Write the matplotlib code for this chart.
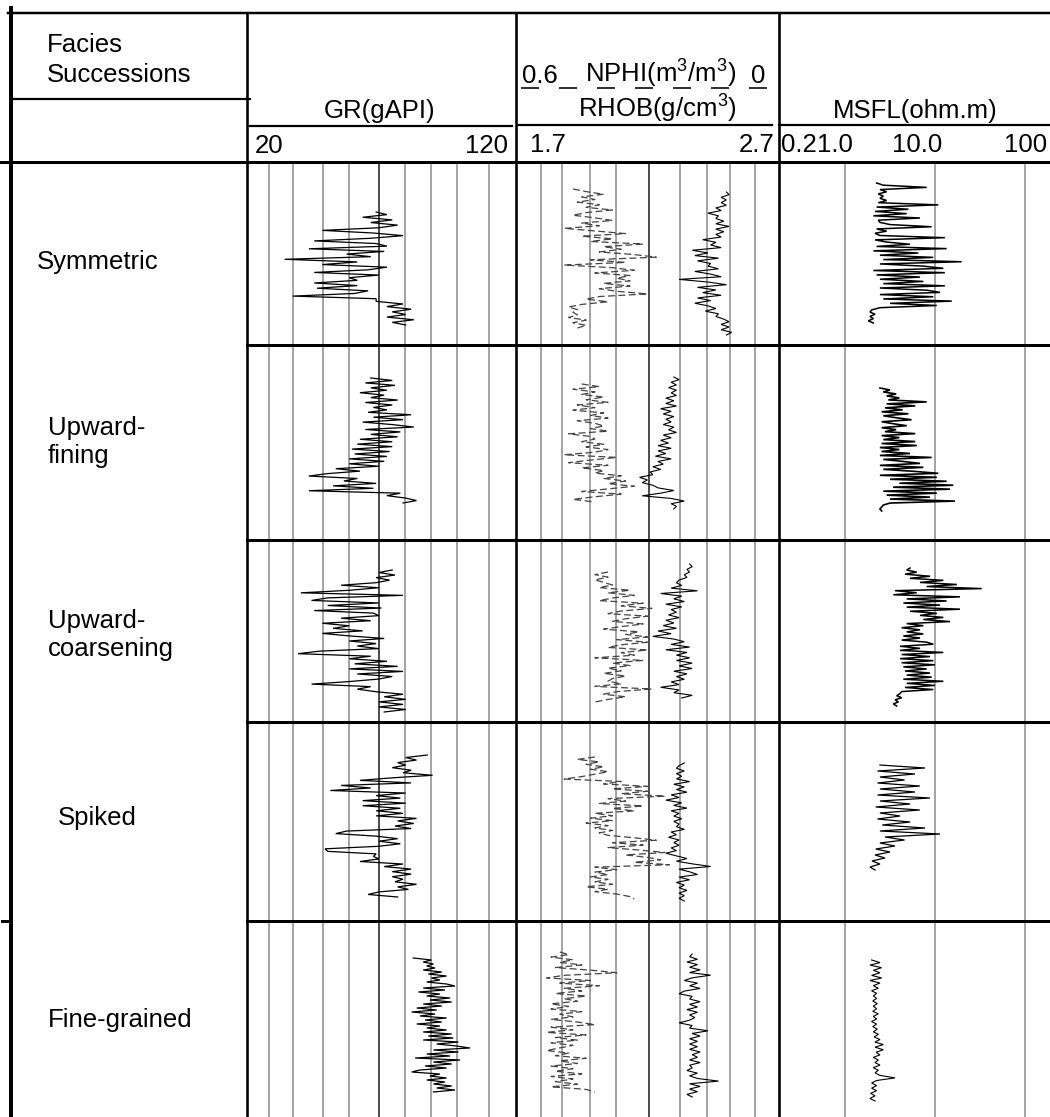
import numpy as np
import matplotlib
matplotlib.use('Agg')
import matplotlib.pyplot as plt

plt.rcParams['font.family'] = ['Liberation Sans', 'DejaVu Sans']
plt.rcParams['mathtext.fontset'] = 'custom'
plt.rcParams['mathtext.rm'] = 'Liberation Sans'
plt.rcParams['mathtext.default'] = 'regular'
plt.rcParams['lines.scale_dashes'] = False

# ---------------- data ----------------
FACIES = ["Symmetric", "Upward-\nfining", "Upward-\ncoarsening", "Spiked", "Fine-grained"]

GR_RANGE = [20, 120]
DEN_RANGE = [1.7, 2.7]
NPHI_RANGE = [0.6, 0.0]
MSFL_RANGE = [0.2, 190]
GR_GRID = [28.2, 37.1, 48.1, 57.9, 68.9, 78.9, 88.4, 98.1, 109.8]
GR_GRID_DARK = [68.9]
DEN_GRID = [1.795, 1.875, 1.98, 2.08, 2.205, 2.325, 2.425, 2.515, 2.61]
DEN_GRID_DARK = [2.205]
MSFL_GRID = [1.0, 10.0, 100.0]
ROW_DEPTH = [18.3, 19.5, 18.2, 19.9, 19.6]   # m, relative depth span of each panel

# Symmetric
GR_SYM = [68, 72, 63, 74, 66, 76, 69, 48, 67, 78, 66, 45, 68, 72, 43, 71, 57, 66, 34, 61, 48, 72,
          65, 45, 69, 58, 61, 45, 61, 46, 65, 60, 37, 68, 68, 78, 72, 81, 74, 79, 72, 82, 74, 79]
GR_SYM_Z = [5.0, 16.3]
NPHI_SYM = [0.47, 0.44, 0.40, 0.45, 0.42, 0.46, 0.41, 0.44, 0.38, 0.44, 0.47, 0.42, 0.38, 0.45,
            0.41, 0.49, 0.42, 0.35, 0.45, 0.38, 0.43, 0.31, 0.40, 0.36, 0.41, 0.33, 0.28, 0.43,
            0.35, 0.49, 0.38, 0.33, 0.42, 0.34, 0.37, 0.34, 0.40, 0.34, 0.41, 0.37, 0.30, 0.41,
            0.44, 0.39, 0.45, 0.48, 0.46, 0.47, 0.46, 0.48, 0.44, 0.47, 0.44, 0.46]
NPHI_SYM_Z = [2.7, 16.6]
RHOB_SYM = [2.50, 2.51, 2.48, 2.50, 2.48, 2.50, 2.46, 2.48, 2.43, 2.47, 2.46, 2.49, 2.46, 2.51,
            2.46, 2.49, 2.46, 2.48, 2.41, 2.46, 2.44, 2.48, 2.37, 2.43, 2.38, 2.47, 2.39, 2.44,
            2.43, 2.47, 2.38, 2.44, 2.48, 2.32, 2.43, 2.50, 2.39, 2.46, 2.41, 2.48, 2.39, 2.44,
            2.38, 2.43, 2.46, 2.42, 2.47, 2.46, 2.49, 2.51, 2.48, 2.51, 2.48, 2.52, 2.50]
RHOB_SYM_Z = [3.0, 17.3]
MSFL_SYM = [2.25, 2.67, 8.1, 2.45, 2.91, 2.35, 2.67, 2.45, 2.91, 2.35, 10.9, 2.25, 5.07, 2.16,
            4.86, 2.07, 6.83, 2.35, 2.45, 3.17, 9.2, 2.25, 2.91, 2.16, 2.45, 12.9, 2.16, 2.91,
            5.29, 2.25, 13.5, 2.07, 6.55, 2.45, 9.6, 2.67, 19.8, 2.45, 7.44, 12.4, 2.07, 12.9,
            2.25, 6.83, 2.45, 7.44, 2.67, 12.9, 2.45, 8.1, 11.4, 2.45, 9.6, 2.67, 15.4, 3.17,
            10.5, 2.45, 1.99, 1.90, 2.16, 1.90, 2.07, 1.82, 2.07]
MSFL_SYM_Z = [2.1, 16.1]

# Upward-fining
GR_UF = [66, 74, 64, 75, 66, 72, 62, 71, 66, 76, 64, 74, 67, 72, 65, 81, 67, 78, 63, 74, 82, 64,
         77, 66, 76, 62, 74, 61, 74, 59, 73, 60, 72, 58, 71, 58, 69, 53, 62, 50, 43, 61, 56, 68,
         52, 67, 43, 77, 72, 79, 83, 78]
GR_UF_Z = [3.3, 15.8]
NPHI_UF = [0.45, 0.41, 0.47, 0.42, 0.45, 0.40, 0.44, 0.39, 0.46, 0.42, 0.47, 0.40, 0.43, 0.39,
           0.46, 0.42, 0.40, 0.43, 0.39, 0.48, 0.43, 0.42, 0.45, 0.40, 0.44, 0.39, 0.42, 0.49,
           0.37, 0.43, 0.48, 0.39, 0.45, 0.40, 0.42, 0.36, 0.40, 0.35, 0.39, 0.33, 0.39, 0.45,
           0.36, 0.42, 0.47, 0.42]
NPHI_UF_Z = [3.9, 15.7]
RHOB_UF = [2.30, 2.32, 2.29, 2.31, 2.28, 2.31, 2.29, 2.31, 2.27, 2.30, 2.27, 2.31, 2.25, 2.29,
           2.26, 2.30, 2.27, 2.29, 2.26, 2.30, 2.28, 2.31, 2.26, 2.29, 2.25, 2.28, 2.24, 2.29,
           2.24, 2.27, 2.23, 2.29, 2.24, 2.26, 2.22, 2.25, 2.21, 2.22, 2.17, 2.20, 2.18, 2.22,
           2.24, 2.30, 2.25, 2.18, 2.29, 2.34, 2.29, 2.31, 2.30]
RHOB_UF_Z = [3.2, 16.4]
MSFL_UF = [2.45, 3.17, 2.67, 3.71, 2.91, 4.03, 3.04, 8.1, 2.91, 6.05, 2.79, 4.38, 2.56, 5.07,
           2.67, 3.71, 5.5, 2.56, 3.43, 4.86, 2.56, 3.71, 2.79, 6.05, 2.56, 4.03, 2.67, 6.05,
           2.56, 6.3, 2.45, 4.03, 2.56, 5.29, 2.45, 9.2, 2.67, 4.38, 6.83, 2.45, 7.44, 2.67,
           5.8, 10.9, 2.45, 10.5, 3.17, 13.5, 4.03, 16.0, 3.43, 14.7, 2.67, 10.5, 2.91, 8.8,
           3.17, 16.7, 3.17, 2.67, 2.56, 2.45, 2.56]
MSFL_UF_Z = [4.3, 16.6]

# Upward-coarsening
GR_UC = [74, 69, 75, 68, 73, 68, 55, 69, 58, 40, 78, 50, 44, 69, 50, 70, 45, 67, 69, 55, 66, 48,
         58, 52, 63, 48, 58, 71, 58, 68, 61, 69, 47, 39, 66, 58, 72, 60, 76, 58, 78, 61, 74, 69,
         58, 44, 66, 61, 68, 78, 71, 79, 69, 78, 69, 79, 71]
GR_UC_Z = [3.0, 17.2]
NPHI_UC = [0.39, 0.42, 0.39, 0.42, 0.40, 0.38, 0.41, 0.34, 0.39, 0.33, 0.38, 0.41, 0.31, 0.36,
           0.29, 0.36, 0.39, 0.30, 0.35, 0.38, 0.31, 0.36, 0.40, 0.32, 0.35, 0.30, 0.37, 0.30,
           0.36, 0.39, 0.30, 0.36, 0.33, 0.42, 0.31, 0.38, 0.34, 0.39, 0.36, 0.40, 0.35, 0.38,
           0.39, 0.36, 0.42, 0.29, 0.37, 0.40, 0.35, 0.39, 0.42]
NPHI_UC_Z = [3.2, 16.2]
RHOB_UC = [2.36, 2.37, 2.35, 2.36, 2.34, 2.35, 2.32, 2.31, 2.33, 2.29, 2.39, 2.25, 2.33, 2.30,
           2.34, 2.27, 2.33, 2.29, 2.31, 2.28, 2.32, 2.27, 2.30, 2.26, 2.31, 2.24, 2.29, 2.22,
           2.30, 2.34, 2.29, 2.36, 2.27, 2.35, 2.31, 2.36, 2.31, 2.37, 2.32, 2.37, 2.30, 2.35,
           2.31, 2.34, 2.29, 2.32, 2.25, 2.32, 2.30, 2.37, 2.33]
RHOB_UC_Z = [2.4, 15.8]
MSFL_UC = [5.29, 4.86, 6.28, 4.65, 8.83, 5.29, 12.4, 6.83, 17.5, 8.1, 33.1, 3.6, 6.28, 3.45,
           19.0, 4.86, 13.5, 4.46, 11.4, 4.86, 19.0, 5.29, 10.5, 6.83, 12.4, 7.44, 14.7, 4.86,
           7.44, 4.27, 6.83, 4.86, 7.44, 4.46, 6.83, 4.27, 8.1, 9.6, 4.09, 6.83, 4.09, 12.4,
           4.27, 8.83, 4.09, 9.6, 4.27, 10.0, 4.46, 8.1, 4.65, 8.83, 4.86, 9.2, 4.46, 12.4,
           4.86, 10.0, 4.65, 9.6, 4.27, 4.09, 3.76, 4.27, 3.6, 3.93, 3.45, 3.76]
MSFL_UC_Z = [2.8, 16.6]

# Spiked
GR_SP = [87, 79, 83, 76, 79, 74, 81, 78, 89, 74, 62, 81, 55, 66, 51, 79, 68, 77, 63, 79, 63, 77,
         68, 78, 68, 83, 76, 82, 75, 81, 57, 53, 68, 76, 69, 77, 69, 49, 50, 68, 67, 69, 62, 78,
         71, 81, 74, 81, 74, 78, 75, 83, 76, 80, 69, 65, 76]
GR_SP_Z = [3.3, 17.5]
NPHI_SP = [0.42, 0.46, 0.41, 0.44, 0.40, 0.43, 0.39, 0.42, 0.45, 0.49, 0.36, 0.40, 0.30, 0.38,
           0.30, 0.36, 0.26, 0.39, 0.35, 0.41, 0.31, 0.38, 0.33, 0.42, 0.38, 0.43, 0.38, 0.44,
           0.39, 0.42, 0.38, 0.41, 0.39, 0.33, 0.28, 0.38, 0.31, 0.39, 0.32, 0.26, 0.35, 0.30,
           0.27, 0.33, 0.25, 0.42, 0.37, 0.42, 0.39, 0.43, 0.39, 0.42, 0.38, 0.44, 0.39, 0.42,
           0.37, 0.34, 0.33]
NPHI_SP_Z = [3.5, 17.7]
RHOB_SP = [2.34, 2.32, 2.31, 2.34, 2.31, 2.33, 2.31, 2.36, 2.30, 2.34, 2.31, 2.35, 2.29, 2.32,
           2.27, 2.33, 2.30, 2.35, 2.29, 2.32, 2.30, 2.33, 2.30, 2.32, 2.31, 2.34, 2.29, 2.31,
           2.28, 2.32, 2.30, 2.32, 2.29, 2.31, 2.27, 2.31, 2.35, 2.31, 2.37, 2.44, 2.32, 2.36,
           2.39, 2.32, 2.36, 2.31, 2.34, 2.32, 2.35, 2.32, 2.34, 2.32, 2.34]
RHOB_SP_Z = [4.1, 17.9]
MSFL_SP = [2.45, 7.76, 2.3, 6.0, 2.45, 4.6, 2.3, 6.8, 2.45, 6.0, 2.3, 8.8, 2.45, 5.3, 2.2, 6.8,
           2.45, 4.1, 2.3, 5.3, 2.6, 7.76, 2.45, 11.4, 2.79, 4.6, 2.45, 3.6, 2.2, 3.17, 2.16,
           2.79, 2.0, 2.45, 1.9, 2.16]
MSFL_SP_Z = [4.3, 14.8]

# Fine-grained
GR_FG = [81.8, 88.6, 85.5, 89.3, 86.8, 89.9, 85.5, 92.4, 87.4, 94.2, 88.6, 91.7, 86.8, 94.2,
         97.3, 85.5, 93.6, 83.7, 91.7, 86.8, 95.5, 88.0, 96.1, 85.5, 92.4, 83.1, 90.5, 81.2,
         89.9, 84.3, 94.2, 86.2, 92.4, 83.1, 91.7, 86.8, 94.2, 85.5, 96.1, 87.4, 96.7, 85.5,
         98.6, 90.5, 97.9, 102.9, 89.3, 98.6, 86.8, 95.5, 82.5, 99.2, 89.3, 96.1, 86.2, 94.2,
         84.3, 81.2, 91.7, 88.0, 94.2, 86.8, 93.6, 89.3, 96.1, 90.5, 97.3, 89.3]
GR_FG_Z = [3.7, 17.1]
NPHI_FG = [0.50, 0.48, 0.52, 0.47, 0.50, 0.45, 0.51, 0.43, 0.37, 0.49, 0.53, 0.43, 0.50, 0.41,
           0.49, 0.45, 0.51, 0.44, 0.49, 0.46, 0.52, 0.48, 0.52, 0.45, 0.50, 0.47, 0.52, 0.46,
           0.42, 0.52, 0.47, 0.53, 0.44, 0.51, 0.46, 0.52, 0.47, 0.50, 0.53, 0.48, 0.51, 0.44,
           0.50, 0.46, 0.52, 0.47, 0.51, 0.45, 0.52, 0.47, 0.51, 0.46, 0.52, 0.44, 0.42]
NPHI_FG_Z = [3.1, 17.1]
RHOB_FG = [2.37, 2.36, 2.39, 2.35, 2.39, 2.36, 2.40, 2.36, 2.44, 2.37, 2.34, 2.39, 2.36, 2.40,
           2.34, 2.32, 2.37, 2.36, 2.40, 2.36, 2.39, 2.35, 2.39, 2.36, 2.38, 2.36, 2.32, 2.37,
           2.36, 2.43, 2.37, 2.40, 2.36, 2.39, 2.36, 2.39, 2.36, 2.40, 2.37, 2.39, 2.36, 2.40,
           2.36, 2.37, 2.35, 2.39, 2.36, 2.39, 2.47, 2.36, 2.40, 2.36, 2.39, 2.35, 2.37]
RHOB_FG_Z = [3.3, 17.6]
MSFL_FG = [1.98, 2.45, 1.90, 2.56, 2.07, 2.45, 1.98, 2.56, 1.90, 2.45, 2.07, 2.35, 1.98, 2.25,
           2.07, 2.25, 2.04, 2.29, 2.07, 2.25, 2.04, 2.35, 2.07, 2.25, 1.98, 2.25, 2.04, 2.29,
           2.07, 2.35, 2.11, 2.45, 2.16, 2.67, 2.16, 2.67, 2.22, 2.45, 2.07, 2.35, 2.16, 2.45,
           2.07, 2.35, 2.16, 2.45, 3.60, 2.25, 1.98, 2.25, 1.98, 2.25, 1.93, 2.16, 1.90, 2.16]
MSFL_FG_Z = [3.9, 18.0]

GR_ALL = [(GR_SYM, GR_SYM_Z), (GR_UF, GR_UF_Z), (GR_UC, GR_UC_Z), (GR_SP, GR_SP_Z), (GR_FG, GR_FG_Z)]
NPHI_ALL = [(NPHI_SYM, NPHI_SYM_Z), (NPHI_UF, NPHI_UF_Z), (NPHI_UC, NPHI_UC_Z), (NPHI_SP, NPHI_SP_Z), (NPHI_FG, NPHI_FG_Z)]
RHOB_ALL = [(RHOB_SYM, RHOB_SYM_Z), (RHOB_UF, RHOB_UF_Z), (RHOB_UC, RHOB_UC_Z), (RHOB_SP, RHOB_SP_Z), (RHOB_FG, RHOB_FG_Z)]
MSFL_ALL = [(MSFL_SYM, MSFL_SYM_Z), (MSFL_UF, MSFL_UF_Z), (MSFL_UC, MSFL_UC_Z), (MSFL_SP, MSFL_SP_Z), (MSFL_FG, MSFL_FG_Z)]

# ---------------- layout ----------------
W, H = 1050, 1117
fig = plt.figure(figsize=(W / 100, H / 100), dpi=100)
fig.patch.set_facecolor('white')

ROW_Y = [162, 345, 540, 722, 921, 1117]
X_GR = (247, 516)
X_DN = (516, 779)
X_MS = (782, 1050)
FS = 18.5
PT = 0.72  # points per pixel


def rect(x0, x1, y0, y1):
    return [x0 / W, 1 - y1 / H, (x1 - x0) / W, (y1 - y0) / H]


def blank(ax):
    ax.set_axis_off()
    ax.patch.set_alpha(0)


def curve(ax, vals, zr, **kw):
    z = np.linspace(zr[0], zr[1], len(vals))
    ax.plot(vals, z, solid_joinstyle='miter', **kw)


GRID_C = '#8a8a8a'
DARK_C = '#1a1a1a'
MSFL_LW = [1.1, 1.2, 1.1, 0.9, 0.8]

for i in range(5):
    y0, y1 = ROW_Y[i], ROW_Y[i + 1]
    span = ROW_DEPTH[i]
    # GR
    ax = fig.add_axes(rect(X_GR[0], X_GR[1], y0, y1))
    blank(ax)
    ax.set_xlim(*GR_RANGE)
    ax.set_ylim(span, 0)
    for g in GR_GRID:
        ax.axvline(g, color=DARK_C if g in GR_GRID_DARK else GRID_C, lw=1.1)
    curve(ax, GR_ALL[i][0], GR_ALL[i][1], color='black', lw=0.9)
    # density / neutron
    ax = fig.add_axes(rect(X_DN[0], X_DN[1], y0, y1))
    blank(ax)
    ax.set_xlim(*DEN_RANGE)
    ax.set_ylim(span, 0)
    for g in DEN_GRID:
        ax.axvline(g, color=DARK_C if g in DEN_GRID_DARK else GRID_C, lw=1.1)
    curve(ax, RHOB_ALL[i][0], RHOB_ALL[i][1], color='black', lw=0.8)
    axn = fig.add_axes(rect(X_DN[0], X_DN[1], y0, y1))
    blank(axn)
    axn.set_xlim(*NPHI_RANGE)
    axn.set_ylim(span, 0)
    curve(axn, NPHI_ALL[i][0], NPHI_ALL[i][1], color='#444444', lw=0.9,
          linestyle=(0, (5, 2.5)))
    # MSFL
    ax = fig.add_axes(rect(X_MS[0], X_MS[1], y0, y1))
    blank(ax)
    ax.set_xscale('log')
    ax.set_xlim(*MSFL_RANGE)
    ax.set_ylim(span, 0)
    for g in MSFL_GRID:
        ax.axvline(g, color=GRID_C, lw=1.1)
    curve(ax, MSFL_ALL[i][0], MSFL_ALL[i][1], color='black', lw=MSFL_LW[i])

# ---------------- frame & header (pixel coordinates) ----------------
fr = fig.add_axes([0, 0, 1, 1])
fr.set_xlim(0, W)
fr.set_ylim(H, 0)
blank(fr)

k = 'black'
fr.plot([8, W], [13, 13], color=k, lw=2.5 * PT)
fr.plot([11, 11], [8, H], color=k, lw=4 * PT)
fr.plot([11, 250], [99, 99], color=k, lw=2.2 * PT)
for x in (247, 516, 779):
    fr.plot([x, x], [13, H], color=k, lw=2.6 * PT)
fr.plot([250, 512], [126, 126], color=k, lw=2.2 * PT)
fr.plot([518, 772], [125, 125], color=k, lw=2.2 * PT)
fr.plot([779, W], [125, 125], color=k, lw=2.2 * PT)
fr.plot([0, W], [162, 162], color=k, lw=3 * PT)
for y in ROW_Y[1:-1]:
    fr.plot([247, W], [y, y], color=k, lw=3 * PT)
fr.plot([2, 11], [921, 921], color=k, lw=3 * PT)
fr.plot([521, 772], [88, 88], color=k, lw=1.6 * PT,
        linestyle=(0, (18 * PT, 20 * PT)))

fr.text(47, 52, "Facies", fontsize=FS, va='baseline', ha='left')
fr.text(47, 82, "Successions", fontsize=FS, va='baseline', ha='left')
fr.text(380, 118, "GR(gAPI)", fontsize=FS, va='baseline', ha='center')
fr.text(255, 153, "20", fontsize=FS, va='baseline', ha='left')
fr.text(508, 153, "120", fontsize=FS, va='baseline', ha='right')
fr.text(522, 83, "0.6", fontsize=FS, va='baseline', ha='left')
fr.text(585, 83, r"NPHI(m$^{3}$/m$^{3}$)", fontsize=FS, va='baseline', ha='left')
fr.text(751, 83, "0", fontsize=FS, va='baseline', ha='left')
fr.text(578, 118, r"RHOB(g/cm$^{3}$)", fontsize=FS, va='baseline', ha='left')
fr.text(530, 152, "1.7", fontsize=FS, va='baseline', ha='left')
fr.text(774, 152, "2.7", fontsize=FS, va='baseline', ha='right')
fr.text(915, 118, "MSFL(ohm.m)", fontsize=FS, va='baseline', ha='center')
fr.text(781, 152, "0.2", fontsize=FS, va='baseline', ha='left')
fr.text(817, 152, "1.0", fontsize=FS, va='baseline', ha='left')
fr.text(892, 152, "10.0", fontsize=FS, va='baseline', ha='left')
fr.text(1004, 152, "100", fontsize=FS, va='baseline', ha='left')

LABEL_POS = [(37, 262), (48, 442), (48, 635), (58, 818), (48, 1020)]
for name, (lx, ly) in zip(FACIES, LABEL_POS):
    fr.text(lx, ly, name, fontsize=FS, va='center', ha='left', linespacing=1.25)

fig.savefig('out.png', dpi=100, facecolor='white')
